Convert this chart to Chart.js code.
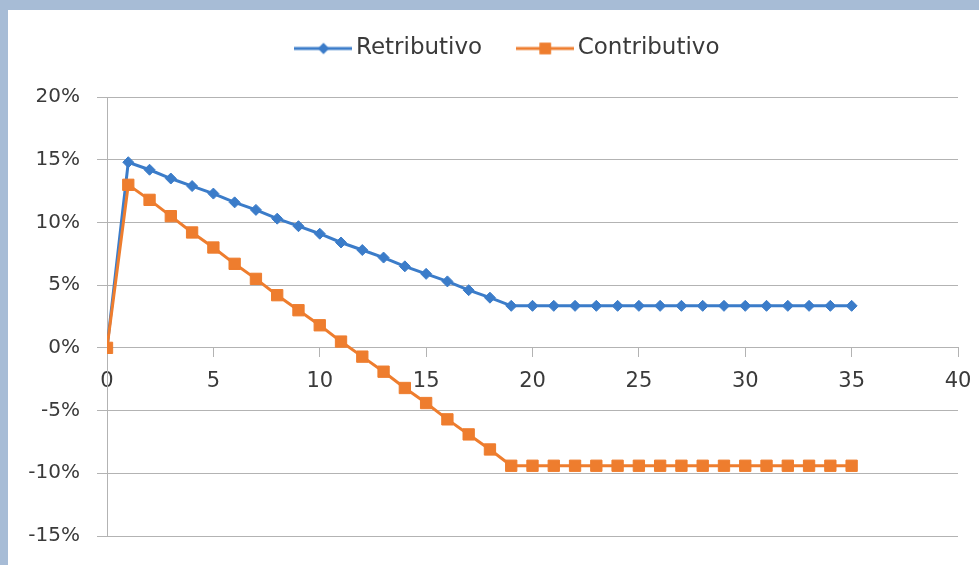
<!DOCTYPE html>
<html>
<head>
<meta charset="utf-8">
<script src="https://cdn.jsdelivr.net/npm/chart.js@4/dist/chart.umd.min.js"></script>
<style>
  html, body { margin: 0; padding: 0; }
  body { width: 979px; height: 565px; background: #a7bcd6; overflow: hidden; position: relative; }
  #panel { position: absolute; left: 8px; top: 10px; width: 971px; height: 555px; background: #fff; }
  #panel canvas { display: block; }
</style>
</head>
<body>
<div id="panel"><canvas id="chart" width="971" height="555"></canvas></div>
<script>
// years after the reform (x) and the two series, in percent
const years = [0, 1, 2, 3, 4, 5, 6, 7, 8, 9, 10, 11, 12, 13, 14, 15, 16, 17, 18, 19, 20,
  21, 22, 23, 24, 25, 26, 27, 28, 29, 30, 31, 32, 33, 34, 35];
const retributivo = [0, 14.8, 14.2, 13.5, 12.9, 12.3, 11.6, 11.0, 10.3, 9.7, 9.1, 8.4, 7.8, 7.2,
  6.5, 5.9, 5.3, 4.6, 4.0, 3.35, 3.35, 3.35, 3.35, 3.35, 3.35, 3.35, 3.35, 3.35, 3.35, 3.35,
  3.35, 3.35, 3.35, 3.35, 3.35, 3.35];
const contributivo = [0, 13.0, 11.8, 10.5, 9.2, 8.0, 6.7, 5.5, 4.2, 3.0, 1.8, 0.5, -0.7, -1.9,
  -3.2, -4.4, -5.7, -6.9, -8.1, -9.4, -9.4, -9.4, -9.4, -9.4, -9.4, -9.4, -9.4, -9.4, -9.4,
  -9.4, -9.4, -9.4, -9.4, -9.4, -9.4, -9.4];
const seriesNames = ['Retributivo', 'Contributivo'];

const BLUE = '#3b7cc9';
const ORANGE = '#ee7d2e';
const GRID = '#b3b3b3';
const TEXT = '#3a3a3a';
const FONT = "'DejaVu Sans', sans-serif";

const toPoints = (vals) => vals.map((v, i) => ({ x: years[i], y: v }));

// little line + marker picture for the legend
function legendIcon(color, style, r) {
  const c = document.createElement('canvas');
  c.width = 58;
  c.height = 20;
  const g = c.getContext('2d');
  g.strokeStyle = color;
  g.lineWidth = 3;
  g.beginPath();
  g.moveTo(0, 10);
  g.lineTo(58, 10);
  g.stroke();
  g.fillStyle = color;
  Chart.helpers.drawPoint(g, { pointStyle: style, radius: r, rotation: 0, borderWidth: 0 }, 29, 10);
  g.fill();
  return c;
}

// push the plot down below the legend and nudge the legend a bit right
const legendTweak = {
  id: 'legendTweak',
  afterInit(chart) {
    const lg = chart.legend;
    const fit = lg.fit;
    lg.fit = function () {
      fit.call(this);
      this.height += 27;
    };
  },
  afterLayout(chart) {
    chart.legend.left += 28;
    chart.legend.right += 28;
  },
};

const ctx = document.getElementById('chart').getContext('2d');

const chart = new Chart(ctx, {
  type: 'line',
  plugins: [legendTweak],
  data: {
    datasets: [
      {
        label: seriesNames[0],
        data: toPoints(retributivo),
        borderColor: BLUE,
        backgroundColor: BLUE,
        borderWidth: 3,
        pointStyle: 'rectRot',
        pointRadius: 5.5,
        pointBorderWidth: 1,
        tension: 0,
        order: 1,
      },
      {
        label: seriesNames[1],
        data: toPoints(contributivo),
        borderColor: ORANGE,
        backgroundColor: ORANGE,
        borderWidth: 3,
        pointStyle: 'rect',
        pointRadius: 8,
        pointBorderWidth: 1,
        tension: 0,
        order: 0,
      },
    ],
  },
  options: {
    responsive: false,
    animation: false,
    layout: { padding: { left: 0, right: 21, top: -15, bottom: 29 } },
    plugins: {
      tooltip: { enabled: false },
      legend: {
        display: true,
        position: 'top',
        labels: {
          usePointStyle: true,
          pointStyleWidth: 42,
          padding: 42,
          color: TEXT,
          font: { family: FONT, size: 23 },
          generateLabels: (ch) => ch.data.datasets.map((ds, i) => ({
            text: ds.label,
            fillStyle: ds.borderColor,
            strokeStyle: ds.borderColor,
            lineWidth: 0,
            pointStyle: legendIcon(ds.borderColor, ds.pointStyle, i === 0 ? 5.5 : 8),
            hidden: !ch.isDatasetVisible(i),
            datasetIndex: i,
            fontColor: TEXT,
          })),
        },
      },
    },
    scales: {
      x: {
        type: 'linear',
        position: { y: 0 },
        min: 0,
        max: 40,
        afterFit: (scale) => { scale.paddingLeft = 0; scale.paddingRight = 0; },
        ticks: { stepSize: 5, color: TEXT, font: { family: FONT, size: 21 }, padding: 12 },
        grid: { drawOnChartArea: false, drawTicks: true, tickLength: 9, color: GRID, lineWidth: 1 },
        border: { display: true, color: GRID, width: 1 },
      },
      y: {
        min: -15,
        max: 20,
        afterFit: (scale) => { scale.width = 99; },
        ticks: {
          stepSize: 5,
          color: TEXT,
          padding: 17,
          font: { family: FONT, size: 20 },
          callback: (v) => v + '%',
        },
        grid: { color: GRID, lineWidth: 1, tickLength: 10 },
        border: { display: true, color: GRID, width: 1 },
      },
    },
  },
});
</script>
</body>
</html>
